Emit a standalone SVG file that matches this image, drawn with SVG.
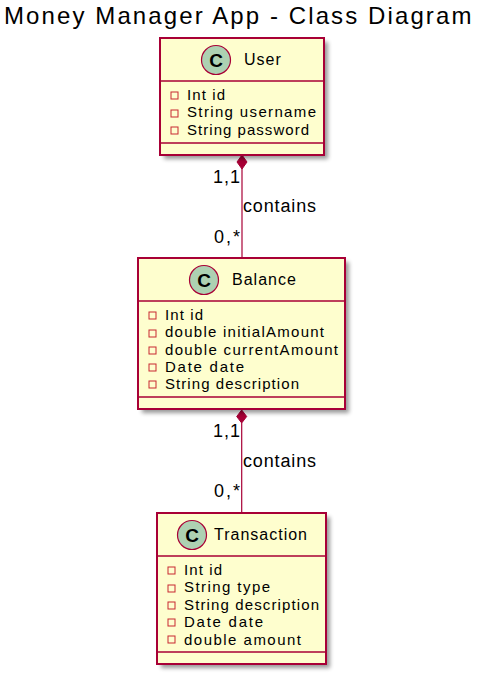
<svg xmlns="http://www.w3.org/2000/svg" width="497" height="680" viewBox="0 0 497 680">
<style>
text{font-family:"Liberation Sans",Arial,sans-serif;fill:#000;}
.title{font-size:24px;letter-spacing:2.1px;}
.name{font-size:16px;letter-spacing:1px;}
.attr{font-size:15px;}
.lab{font-size:18px;}
.box{fill:#FEFECE;stroke:#A80036;stroke-width:2;}
.div{stroke:#A80036;stroke-width:1.5;fill:none;}
.shadow{fill:#000;opacity:.4;filter:url(#blur);}
.circ{fill:#ADD1B2;stroke:#A80036;stroke-width:1.2;}
.c{font-size:19px;font-weight:bold;text-anchor:middle;}
.vis{fill:none;stroke:#C82930;stroke-width:1;}
.conn{stroke:#A80036;stroke-width:1.2;fill:none;}
.dia{fill:#A80036;stroke:#A80036;}
</style>
<defs><filter id="blur" x="-10%" y="-10%" width="120%" height="120%"><feGaussianBlur stdDeviation="2.2"/></filter></defs>
<rect width="497" height="680" fill="#fff"/>
<text class="title" x="4" y="24">Money Manager App - Class Diagram</text>
<g id="connectors">
<path class="conn" d="M242 168V258"/>
<path class="dia" d="M242 155L247 162L242 169L237 162Z"/>
<path class="conn" d="M241.700 423V513"/>
<path class="dia" d="M241.700 410L246.700 416.500L241.700 423L236.700 416.500Z"/>
<text class="lab" x="213" y="183" textLength="27">1,1</text>
<text class="lab" x="214" y="243" textLength="26">0,*</text>
<text class="lab" x="243" y="212" textLength="73">contains</text>
<text class="lab" x="213" y="437" textLength="27">1,1</text>
<text class="lab" x="214" y="497" textLength="26">0,*</text>
<text class="lab" x="243" y="467" textLength="73">contains</text>
</g>
<g id="user">
<rect class="shadow" x="164" y="42" width="164" height="117"/>
<rect class="box" x="160" y="38" width="164" height="117"/>
<circle class="circ" cx="216" cy="60" r="14.500"/>
<text class="c" x="216" y="67">C</text>
<text class="name" x="244" y="65">User</text>
<path class="div" d="M160 81H324M160 143H324"/>
<rect class="vis" x="171" y="92" width="7" height="7"/><text class="attr" x="187" y="100" textLength="38">Int id</text>
<rect class="vis" x="171" y="110" width="7" height="7"/><text class="attr" x="187" y="117" textLength="129">String username</text>
<rect class="vis" x="171" y="127" width="7" height="7"/><text class="attr" x="187" y="135" textLength="122">String password</text>
</g>
<g id="balance">
<rect class="shadow" x="142" y="262" width="207" height="151"/>
<rect class="box" x="138" y="258" width="207" height="151"/>
<circle class="circ" cx="204" cy="280" r="14.500"/>
<text class="c" x="204" y="287">C</text>
<text class="name" x="232" y="285">Balance</text>
<path class="div" d="M138 301H345M138 397H345"/>
<rect class="vis" x="149" y="312" width="7" height="7"/><text class="attr" x="165" y="320" textLength="38">Int id</text>
<rect class="vis" x="149" y="330" width="7" height="7"/><text class="attr" x="165" y="337" textLength="159">double initialAmount</text>
<rect class="vis" x="149" y="347" width="7" height="7"/><text class="attr" x="165" y="355" textLength="173">double currentAmount</text>
<rect class="vis" x="149" y="364" width="7" height="7"/><text class="attr" x="165" y="372" textLength="79">Date date</text>
<rect class="vis" x="149" y="381" width="7" height="7"/><text class="attr" x="165" y="389" textLength="134">String description</text>
</g>
<g id="transaction">
<rect class="shadow" x="161" y="517" width="169" height="151"/>
<rect class="box" x="157" y="513" width="169" height="151"/>
<circle class="circ" cx="192" cy="535" r="14.500"/>
<text class="c" x="192" y="542">C</text>
<text class="name" x="214" y="540">Transaction</text>
<path class="div" d="M157 556H326M157 652H326"/>
<rect class="vis" x="168" y="567" width="7" height="7"/><text class="attr" x="184" y="575" textLength="38">Int id</text>
<rect class="vis" x="168" y="585" width="7" height="7"/><text class="attr" x="184" y="592" textLength="86">String type</text>
<rect class="vis" x="168" y="602" width="7" height="7"/><text class="attr" x="184" y="610" textLength="135">String description</text>
<rect class="vis" x="168" y="619" width="7" height="7"/><text class="attr" x="184" y="627" textLength="79">Date date</text>
<rect class="vis" x="168" y="636" width="7" height="7"/><text class="attr" x="184" y="645" textLength="117">double amount</text>
</g>
</svg>
